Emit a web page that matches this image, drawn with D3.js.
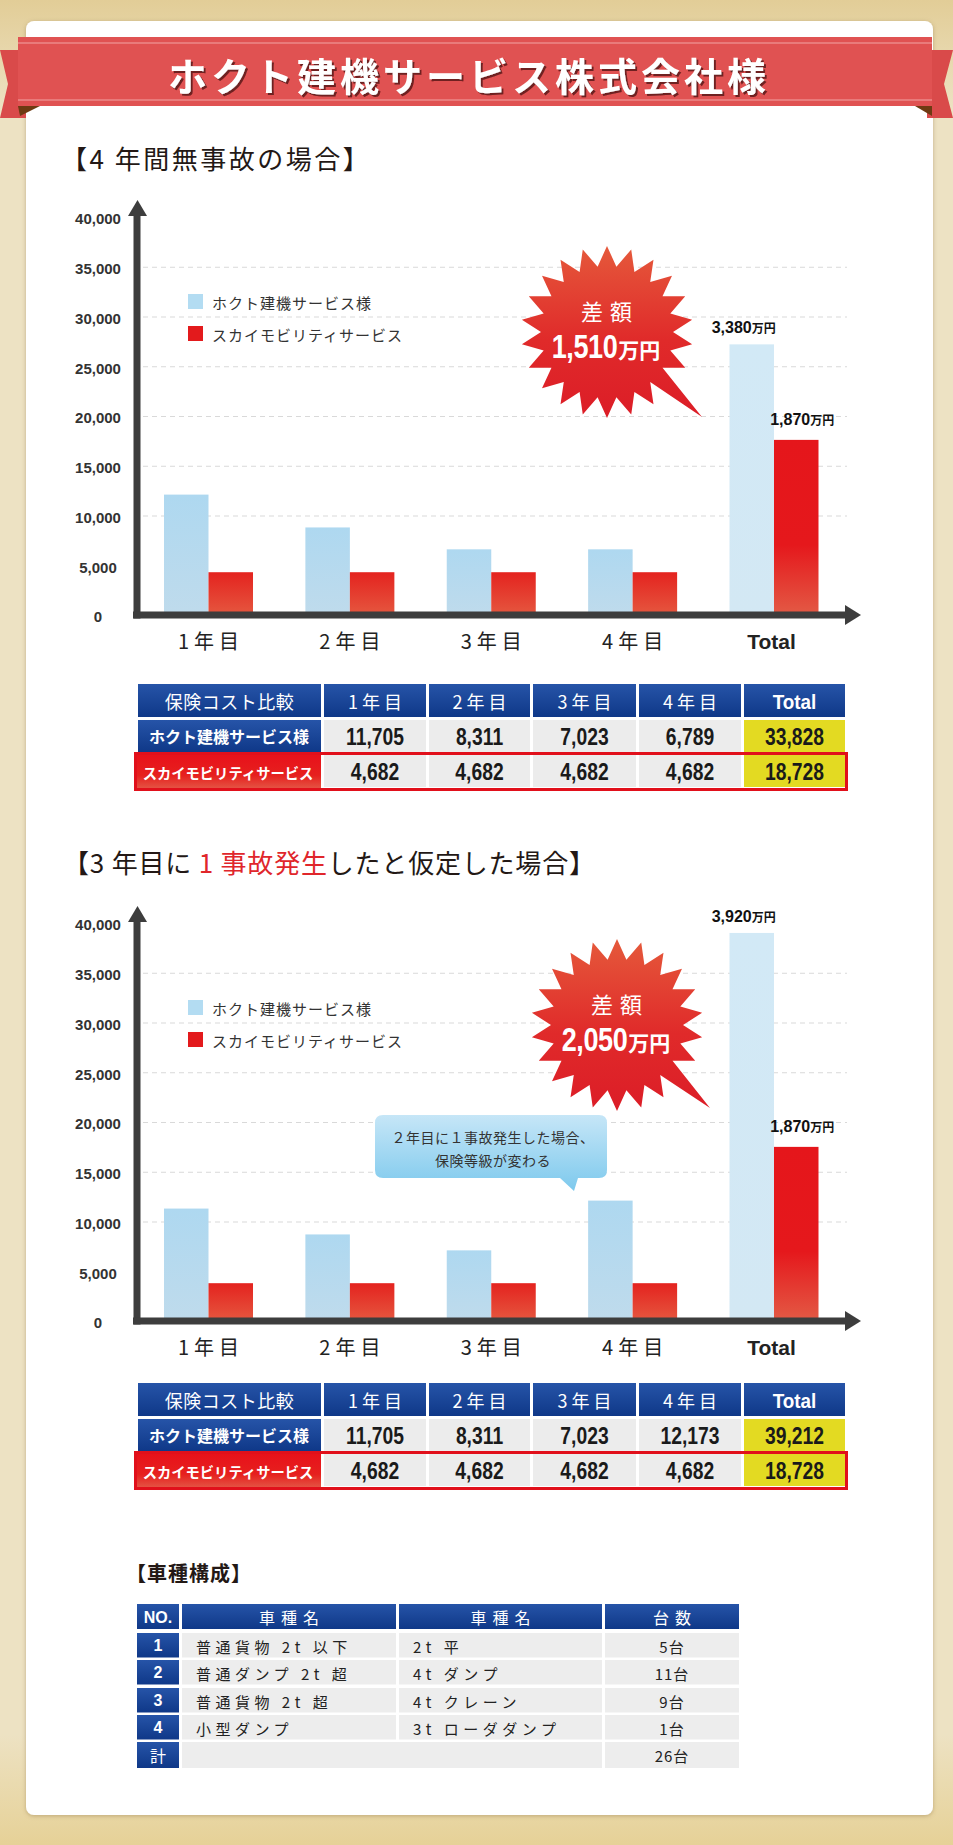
<!DOCTYPE html>
<html lang="ja">
<head>
<meta charset="UTF-8">
<title>ホクト建機サービス株式会社様</title>
<script src="https://d3js.org/d3.v7.min.js"></script>
<style>
  body { margin: 0; background: #ecdcb2; }
  svg { display: block; }
</style>
</head>
<body>
<script>
// ---- data ----
const categories = ["1年目", "2年目", "3年目", "4年目", "Total"];
const seriesNames = ["ホクト建機サービス様", "スカイモビリティサービス"];
const yTicks = [0, 5000, 10000, 15000, 20000, 25000, 30000, 35000, 40000];
const gridTicks = [10000, 15000, 20000, 25000, 30000, 35000];

// bar heights as drawn in each chart
const hoktoBars1 = [12100, 8800, 6600, 6600, 27200];
const skyBars1 = [4300, 4300, 4300, 4300, 17600];
const totalLabels1 = ["3,380", "1,870"];
const diffLabel1 = "1,510";

const hoktoBars2 = [11300, 8700, 7100, 12100, 39000];
const skyBars2 = [3800, 3800, 3800, 3800, 17500];
const totalLabels2 = ["3,920", "1,870"];
const diffLabel2 = "2,050";

// cost tables
const tableHeader = ["保険コスト比較", "1年目", "2年目", "3年目", "4年目", "Total"];
const hoktoCost1 = ["11,705", "8,311", "7,023", "6,789", "33,828"];
const skyCost1 = ["4,682", "4,682", "4,682", "4,682", "18,728"];
const hoktoCost2 = ["11,705", "8,311", "7,023", "12,173", "39,212"];
const skyCost2 = ["4,682", "4,682", "4,682", "4,682", "18,728"];

// vehicle table
const vehicleHeader = ["NO.", "車種名", "車種名", "台数"];
const vehicleNo = ["1", "2", "3", "4"];
const vehicleClass = ["普通貨物 2t 以下", "普通ダンプ 2t 超", "普通貨物 2t 超", "小型ダンプ"];
const vehicleType = ["2t 平", "4t ダンプ", "4t クレーン", "3t ローダダンプ"];
const vehicleCount = ["5台", "11台", "9台", "1台"];
const vehicleTotal = "26台";

const JP = "'Noto Sans CJK JP', 'Noto Sans', sans-serif";
const NUM = "'Liberation Sans', Arial, sans-serif";

const W = 953, H = 1845;
const svg = d3.select("body").append("svg").attr("width", W).attr("height", H);
const defs = svg.append("defs");

function vGrad(id, stops) {
  const g = defs.append("linearGradient").attr("id", id)
    .attr("x1", 0).attr("y1", 0).attr("x2", 0).attr("y2", 1);
  stops.forEach(([o, c]) => g.append("stop").attr("offset", o).attr("stop-color", c));
}
vGrad("gBg", [[0, "#e2cd97"], [0.06, "#ede2c3"], [0.94, "#ede2c3"], [1, "#e6d197"]]);
vGrad("gBlue", [[0, "#aed8f0"], [1, "#bfdbec"]]);
vGrad("gBlueTotal", [[0, "#d2e9f6"], [1, "#d3e8f4"]]);
vGrad("gRed", [[0, "#e4231f"], [1, "#e5573f"]]);
vGrad("gRedTotal", [[0, "#e5161b"], [0.6, "#e5181c"], [1, "#e35a45"]]);
vGrad("gBurst", [[0, "#e5593b"], [0.55, "#e02a2a"], [1, "#dc1d27"]]);
vGrad("gHead", [[0, "#2654a8"], [1, "#0f3888"]]);
vGrad("gRowRed", [[0, "#e8101a"], [0.6, "#e6201e"], [1, "#e45a48"]]);
vGrad("gCallout", [[0, "#c6e6f7"], [1, "#7dc9ed"]]);

const sh = defs.append("filter").attr("id", "titleShadow");
sh.append("feDropShadow").attr("dx", 2).attr("dy", 2).attr("stdDeviation", 0.6)
  .attr("flood-color", "#4a0c0c").attr("flood-opacity", 0.75);
const cs = defs.append("filter").attr("id", "cardShadow");
cs.append("feDropShadow").attr("dx", 0).attr("dy", 1).attr("stdDeviation", 2)
  .attr("flood-color", "#8a7040").attr("flood-opacity", 0.45);

// condensed bold number, centred on (cx, cy)
function narrowText(sel, cx, cy, txt, size, sx) {
  return sel.append("text")
    .attr("transform", `translate(${cx},${cy}) scale(${sx},1)`)
    .attr("text-anchor", "middle").attr("dominant-baseline", "central")
    .attr("font-family", NUM).attr("font-weight", "bold").attr("font-size", size)
    .text(txt);
}

// background and card
svg.append("rect").attr("width", W).attr("height", H).attr("fill", "url(#gBg)");
svg.append("rect").attr("x", 26).attr("y", 21).attr("width", 907).attr("height", 1794)
  .attr("rx", 8).attr("fill", "#fff").attr("filter", "url(#cardShadow)");

// ribbon
const rib = svg.append("g");
rib.append("polygon").attr("points", "0,50 26,50 26,118 0,118 8,84").attr("fill", "#d94a4a");
rib.append("polygon").attr("points", "953,50 927,50 927,118 953,118 944,84").attr("fill", "#d94a4a");
rib.append("polygon").attr("points", "18,106 40,106 20,116").attr("fill", "#6e3a12");
rib.append("polygon").attr("points", "915,106 932,106 932,116").attr("fill", "#6e3a12");
rib.append("rect").attr("x", 18).attr("y", 37).attr("width", 914).attr("height", 69).attr("fill", "#e05252");
[43, 100].forEach(yy => rib.append("line").attr("x1", 18).attr("x2", 932)
  .attr("y1", yy).attr("y2", yy).attr("stroke", "#f2a4a4").attr("stroke-width", 1));
rib.append("text").attr("x", 469).attr("y", 74).attr("text-anchor", "middle")
  .attr("dominant-baseline", "central").attr("font-family", JP).attr("font-weight", "bold")
  .attr("font-size", 39).attr("letter-spacing", 4).attr("fill", "#fff")
  .attr("filter", "url(#titleShadow)").text("ホクト建機サービス株式会社様");

// section titles
svg.append("text").attr("x", 61).attr("y", 157).attr("dominant-baseline", "central")
  .attr("font-family", JP).attr("font-size", 26).attr("letter-spacing", 2.5).attr("fill", "#231815")
  .text("【4 年間無事故の場合】");
const t2 = svg.append("text").attr("x", 63).attr("y", 861).attr("dominant-baseline", "central")
  .attr("font-family", JP).attr("font-size", 26).attr("letter-spacing", 0.8).attr("fill", "#231815");
t2.append("tspan").text("【3 年目に ");
t2.append("tspan").attr("fill", "#e0262b").text("1 事故発生");
t2.append("tspan").text("したと仮定した場合】");

function burstPath(cx, cy, tip) {
  const n = 22, rO = 86, rI = 66;
  const pts = d3.range(2 * n).map(i => {
    const a = -Math.PI / 2 + i * Math.PI / n;
    const r = i % 2 ? rI : rO;
    return [cx + r * Math.cos(a), cy + r * Math.sin(a)];
  });
  const ta = Math.atan2(tip[1] - cy, tip[0] - cx);
  let best = 0, bd = 1e9;
  pts.forEach((p, i) => {
    if (i % 2) return;
    const a = -Math.PI / 2 + i * Math.PI / n;
    const d = Math.abs(Math.atan2(Math.sin(a - ta), Math.cos(a - ta)));
    if (d < bd) { bd = d; best = i; }
  });
  pts[best] = tip;
  return d3.line().curve(d3.curveLinearClosed)(pts);
}

function drawChart(cfg) {
  const g = svg.append("g");
  const y = d3.scaleLinear().domain([0, 40000]).range([cfg.y0, cfg.y0 - 398]);
  const x = d3.scalePoint().domain(categories).range([208.5, 774]);
  const sub = d3.scaleBand().domain(seriesNames).range([-44.5, 44.5]);

  // dashed grid
  g.append("g").attr("transform", "translate(143,0)")
    .call(d3.axisLeft(y).tickValues(gridTicks).tickSize(-704).tickFormat(""))
    .call(a => a.select(".domain").remove())
    .selectAll("line").attr("stroke", "#d9d9d9").attr("stroke-dasharray", "5,4");

  // y tick labels
  g.append("g").attr("transform", "translate(98,0)")
    .call(d3.axisLeft(y).tickValues(yTicks).tickSize(0).tickPadding(0).tickFormat(d3.format(",")))
    .call(a => a.select(".domain").remove())
    .selectAll("text").attr("text-anchor", "middle").attr("x", 0).attr("y", 2)
    .attr("font-family", NUM).attr("font-size", 15).attr("font-weight", "bold").attr("fill", "#333");

  // bars
  const rows = [];
  categories.forEach((c, i) => {
    rows.push({ cat: c, s: seriesNames[0], v: cfg.hokto[i] });
    rows.push({ cat: c, s: seriesNames[1], v: cfg.sky[i] });
  });
  g.selectAll("rect.bar").data(rows).join("rect").attr("class", "bar")
    .attr("x", d => x(d.cat) + sub(d.s))
    .attr("width", sub.bandwidth())
    .attr("y", d => y(d.v))
    .attr("height", d => y(0) - y(d.v))
    .attr("fill", d => d.s === seriesNames[0]
      ? (d.cat === "Total" ? "url(#gBlueTotal)" : "url(#gBlue)")
      : (d.cat === "Total" ? "url(#gRedTotal)" : "url(#gRed)"));

  // total labels
  cfg.totals.forEach((t, i) => {
    const s = seriesNames[i];
    const v = i === 0 ? cfg.hokto[4] : cfg.sky[4];
    const tx = g.append("text")
      .attr("x", x("Total") + sub(s) + sub.bandwidth() / 2 + (i === 0 ? -8 : 6))
      .attr("y", y(v) - (i === 0 ? 11 : 15))
      .attr("text-anchor", "middle").attr("fill", "#111");
    tx.append("tspan").attr("font-family", NUM).attr("font-weight", "bold").attr("font-size", 16).text(t);
    tx.append("tspan").attr("font-family", JP).attr("font-weight", "bold").attr("font-size", 12).text("万円");
  });

  // axes
  const axisColor = "#3d3d3d";
  g.append("line").attr("x1", 137).attr("x2", 137).attr("y1", y(0) + 3.5).attr("y2", y(40000) - 2)
    .attr("stroke", axisColor).attr("stroke-width", 7);
  g.append("polygon").attr("fill", axisColor)
    .attr("points", `128,${y(40000) - 1} 147,${y(40000) - 1} 137.5,${y(40000) - 17}`);
  g.append("line").attr("x1", 133).attr("x2", 847).attr("y1", y(0)).attr("y2", y(0))
    .attr("stroke", axisColor).attr("stroke-width", 7);
  g.append("polygon").attr("fill", axisColor)
    .attr("points", `845,${y(0) - 10} 845,${y(0) + 10} 861,${y(0)}`);

  // x labels
  g.append("g").attr("transform", `translate(0,${y(0) + 27})`)
    .call(d3.axisBottom(x).tickSize(0).tickPadding(0))
    .call(a => a.select(".domain").remove())
    .selectAll("text")
    .attr("y", 0).attr("dy", "0.35em").attr("fill", "#222")
    .attr("font-family", d => d === "Total" ? NUM : JP)
    .attr("font-weight", d => d === "Total" ? "bold" : "normal")
    .attr("font-size", d => d === "Total" ? 21 : 20)
    .attr("letter-spacing", d => d === "Total" ? 0 : 5)
    .attr("dx", d => d === "Total" ? -3 : 2);

  // legend
  seriesNames.forEach((s, i) => {
    const ly = y(0) - 321 + i * 32;
    g.append("rect").attr("x", 188).attr("y", ly).attr("width", 15).attr("height", 15)
      .attr("fill", i === 0 ? "#b3dcf2" : "#e31a1c");
    g.append("text").attr("x", 212).attr("y", ly + 8).attr("dominant-baseline", "central")
      .attr("font-family", JP).attr("font-size", 15).attr("letter-spacing", 1).attr("fill", "#333").text(s);
  });

  // difference burst
  const [cx, cy] = cfg.burst;
  g.append("path").attr("d", burstPath(cx, cy, cfg.tip)).attr("fill", "url(#gBurst)");
  g.append("text").attr("x", cx + 3).attr("y", cy - 22).attr("text-anchor", "middle")
    .attr("dominant-baseline", "central").attr("font-family", JP).attr("font-size", 22)
    .attr("letter-spacing", 7).attr("fill", "#fff").text("差額");
  const dg = g.append("g");
  const num = dg.append("text").attr("transform", "scale(0.82,1)").attr("fill", "#fff")
    .attr("font-family", NUM).attr("font-weight", "bold").attr("font-size", 33)
    .attr("letter-spacing", -0.5).text(cfg.diff);
  const w1 = num.node().getComputedTextLength() * 0.82;
  const unit = dg.append("text").attr("x", w1 + 1).attr("fill", "#fff")
    .attr("font-family", JP).attr("font-weight", "bold").attr("font-size", 21).text("万円");
  const w2 = unit.node().getComputedTextLength();
  dg.attr("transform", `translate(${cx - 1 - (w1 + w2 + 1) / 2},${cy + 26})`);

  // callout bubble
  if (cfg.callout) {
    const top = y(0) - 206;
    g.append("path").attr("fill", "url(#gCallout)")
      .attr("d", `M383,${top} H599 Q607,${top} 607,${top + 8} V${top + 55} Q607,${top + 63} 599,${top + 63}
        H578 L574,${top + 76} L560,${top + 63} H383 Q375,${top + 63} 375,${top + 55} V${top + 8} Q375,${top} 383,${top} Z`);
    cfg.callout.forEach((line, i) => {
      g.append("text").attr("x", 493).attr("y", top + 22 + i * 23).attr("text-anchor", "middle")
        .attr("dominant-baseline", "central").attr("font-family", JP).attr("font-size", 14)
        .attr("letter-spacing", 0.5).attr("fill", "#333").text(line);
    });
  }
}

drawChart({ y0: 615, hokto: hoktoBars1, sky: skyBars1, totals: totalLabels1, diff: diffLabel1,
  burst: [607, 332], tip: [702, 417] });
drawChart({ y0: 1321, hokto: hoktoBars2, sky: skyBars2, totals: totalLabels2, diff: diffLabel2,
  burst: [617, 1025], tip: [710, 1108], callout: ["２年目に１事故発生した場合、", "保険等級が変わる"] });

// cost comparison tables
const costCols = [[138, 321], [324, 426], [429, 530], [533, 636], [639, 741], [744, 845]];
function drawCostTable(top, hokto, sky) {
  const g = svg.append("g");
  tableHeader.forEach((t, i) => {
    const [x0, x1] = costCols[i];
    g.append("rect").attr("x", x0).attr("y", top).attr("width", x1 - x0).attr("height", 33).attr("fill", "url(#gHead)");
    if (i === 5) {
      narrowText(g, (x0 + x1) / 2, top + 18, t, 21, 0.9).attr("fill", "#fff");
      return;
    }
    const tx = g.append("text").attr("x", (x0 + x1) / 2).attr("y", top + 17)
      .attr("text-anchor", "middle").attr("dominant-baseline", "central").attr("fill", "#fff").text(t);
    if (i === 0) tx.attr("font-family", JP).attr("font-size", 18).attr("letter-spacing", 0.5);
    else tx.attr("font-family", JP).attr("font-size", 18).attr("letter-spacing", 4).attr("dx", 2);
  });
  // row 1
  g.append("rect").attr("x", 138).attr("y", top + 36).attr("width", 183).attr("height", 32).attr("fill", "url(#gHead)");
  g.append("text").attr("x", 229).attr("y", top + 52).attr("text-anchor", "middle").attr("dominant-baseline", "central")
    .attr("font-family", JP).attr("font-weight", "bold").attr("font-size", 16).attr("fill", "#fff").text(seriesNames[0]);
  // row 2 label
  g.append("rect").attr("x", 135).attr("y", top + 69).attr("width", 186).attr("height", 37).attr("fill", "url(#gRowRed)");
  g.append("text").attr("x", 228).attr("y", top + 88).attr("text-anchor", "middle").attr("dominant-baseline", "central")
    .attr("font-family", JP).attr("font-weight", "bold").attr("font-size", 14.3).attr("fill", "#fff").text(seriesNames[1]);
  [[hokto, top + 36, 32], [sky, top + 71, 32]].forEach(([vals, ry, rh]) => {
    vals.forEach((v, i) => {
      const [x0, x1] = costCols[i + 1];
      g.append("rect").attr("x", x0).attr("y", ry).attr("width", x1 - x0).attr("height", rh)
        .attr("fill", i === 4 ? "#e3da22" : "#ececec");
      narrowText(g, (x0 + x1) / 2, ry + rh / 2 + 1, v, 23, 0.84).attr("fill", "#1a1a1a");
    });
  });
  g.append("rect").attr("x", 135.5).attr("y", top + 69.5).attr("width", 711).attr("height", 36)
    .attr("fill", "none").attr("stroke", "#e1101b").attr("stroke-width", 3);
}
drawCostTable(684, hoktoCost1, skyCost1);
drawCostTable(1383, hoktoCost2, skyCost2);

// vehicle composition
svg.append("text").attr("x", 126).attr("y", 1572).attr("dominant-baseline", "central")
  .attr("font-family", JP).attr("font-weight", "bold").attr("font-size", 20).attr("letter-spacing", 1)
  .attr("fill", "#231815").text("【車種構成】");
const vCols = [[137, 179], [182, 396], [399, 602], [605, 739]];
const vg = svg.append("g");
vehicleHeader.forEach((t, i) => {
  const [x0, x1] = vCols[i];
  vg.append("rect").attr("x", x0).attr("y", 1604).attr("width", x1 - x0).attr("height", 25).attr("fill", "url(#gHead)");
  const tx = vg.append("text").attr("x", (x0 + x1) / 2).attr("y", 1617).attr("text-anchor", "middle")
    .attr("dominant-baseline", "central").attr("fill", "#fff").text(t);
  if (i === 0) tx.attr("font-family", NUM).attr("font-weight", "bold").attr("font-size", 16);
  else tx.attr("font-family", JP).attr("font-size", 16).attr("letter-spacing", 6).attr("dx", 3);
});
const vRowTop = [1633, 1660, 1688, 1715];
vehicleNo.forEach((n, i) => {
  const ry = vRowTop[i], rh = 24.5;
  vg.append("rect").attr("x", 137).attr("y", ry).attr("width", 42).attr("height", rh).attr("fill", "url(#gHead)");
  vg.append("text").attr("x", 158).attr("y", ry + rh / 2).attr("text-anchor", "middle").attr("dominant-baseline", "central")
    .attr("font-family", NUM).attr("font-weight", "bold").attr("font-size", 16).attr("fill", "#fff").text(n);
  [vehicleClass[i], vehicleType[i], vehicleCount[i]].forEach((t, j) => {
    const [x0, x1] = vCols[j + 1];
    vg.append("rect").attr("x", x0).attr("y", ry).attr("width", x1 - x0).attr("height", rh).attr("fill", "#ededed");
    const tx = vg.append("text").attr("y", ry + rh / 2 + 1).attr("dominant-baseline", "central")
      .attr("font-family", JP).attr("font-size", 15).attr("fill", "#222").text(t);
    if (j === 2) tx.attr("x", (x0 + x1) / 2).attr("text-anchor", "middle").attr("letter-spacing", 1);
    else tx.attr("x", x0 + 14).attr("letter-spacing", 4.5);
  });
});
vg.append("rect").attr("x", 137).attr("y", 1742).attr("width", 42).attr("height", 26).attr("fill", "url(#gHead)");
vg.append("text").attr("x", 158).attr("y", 1755).attr("text-anchor", "middle").attr("dominant-baseline", "central")
  .attr("font-family", JP).attr("font-size", 16).attr("fill", "#fff").text("計");
vg.append("rect").attr("x", 182).attr("y", 1742).attr("width", 420).attr("height", 26).attr("fill", "#ededed");
vg.append("rect").attr("x", 605).attr("y", 1742).attr("width", 134).attr("height", 26).attr("fill", "#ededed");
vg.append("text").attr("x", 672).attr("y", 1755).attr("text-anchor", "middle").attr("dominant-baseline", "central")
  .attr("font-family", JP).attr("font-size", 15).attr("letter-spacing", 1).attr("fill", "#222").text(vehicleTotal);
</script>
</body>
</html>
